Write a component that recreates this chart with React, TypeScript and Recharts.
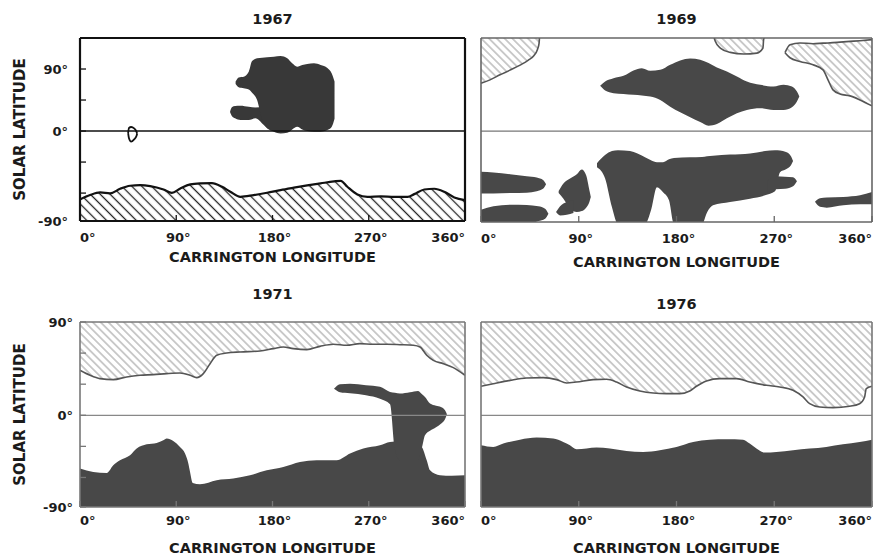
import React from 'react';
import { ComposedChart, Area, XAxis, YAxis, ReferenceLine, Label } from 'recharts';

const FONT = '"DejaVu Sans", "Liberation Sans", sans-serif';
const TEXT = '#1b1b1b';

// ---------- axis / text content ----------
const X_TICKS = [0, 90, 180, 270, 360];
const X_TOP_TICKS = [90, 180, 270];
const X_TITLE = 'CARRINGTON LONGITUDE';
const Y_TITLE = 'SOLAR LATITUDE';
const YEARS = ['1967', '1969', '1971', '1976'];

// y tick positions (deg) and the labels printed next to them
const Y_TICKS_1967 = [-87, -60, -30, 0, 30, 60];
const Y_LABELS_1967: [number, string][] = [[60, '90°'], [0, '0°'], [-87, '-90°']];
const Y_TICKS_1969 = [-60, -30, 0, 30, 60];
const Y_TICKS_1971 = [-88.5, -60, -30, 0, 30, 60, 90];
const Y_LABELS_1971: [number, string][] = [[90, '90°'], [0, '0°'], [-88.5, '-90°']];
const Y_TICKS_1976 = [-60, -30, 0, 30, 60];

// ---------- 1967 ----------
const south1967: [number, number][] = [
  [0, -66.1], [9.4, -61.9], [18.8, -59.4], [28.1, -60.3], [37.5, -55.8], [46.9, -52.9], [56.3, -52.3],
  [65.6, -53.2], [78.1, -56.5], [85.9, -59.7], [93.8, -55.5], [103.1, -51.6], [112.5, -50.6], [123.4, -50.3],
  [132.8, -53.9], [140.6, -58.7], [150, -63.6], [162.5, -61.9], [175, -59.7], [187.5, -57.1], [200, -54.8],
  [212.5, -52.6], [225, -50.6], [237.5, -48.7], [243.8, -48.1], [250, -53.9], [259.4, -61.3], [268.8, -63.6],
  [281.3, -63.2], [293.8, -63.6], [306.3, -63.6], [312.5, -61], [321.9, -56.5], [331.3, -55.8], [340.6, -58.7],
  [350, -64.2], [360, -66.8],
];
const blob1967: [number, number, number][] = [
  [145.5, 45.5, 48], [148.4, 42.3, 51.9], [153.1, 41.3, 52.6], [157.8, 40.3, 57.4], [160.9, 37.1, 67.7],
  [165.6, 30, 70.3], [170.3, 10.6, 71], [175, 2.6, 71.3], [181.3, -0.6, 71.9], [187.5, -2.3, 72.6],
  [193.8, -1.6, 70.3], [198.4, 1.6, 65.5], [203.1, 4.2, 62.3], [207.8, 1.6, 63.9], [212.5, 0, 64.8],
  [218.8, -0.6, 65.5], [225, -0.6, 63.9], [231.3, 1, 61], [235.3, 4, 56], [238, 12, 48],
];
const lobe1967: [number, number, number][] = [
  [140.3, 18.5, 18.5], [142, 14.5, 23], [145, 12.3, 24.2], [150, 10.6, 24.5], [157.8, 10.6, 23.5],
  [164, 12.3, 22.9], [171.9, 5.8, 23.5], [176, 2, 30],
];
const ring1967: [number, number, number][] = [
  [45, -2, -2], [45.8, -7, 3], [47.8, -10.3, 3.9], [50.6, -8.1, 2.6], [52.8, -4.8, -0.6], [53.4, -2.6, -2.6],
];

// ---------- 1969 ----------
const hatchNW1969: [number, number][] = [
  [0, 46.3], [8.3, 49.5], [17.5, 54.4], [26.7, 58.9], [36, 63.8], [43.6, 68.6], [48.8, 73.1], [51.9, 78.7],
  [53.5, 85.1], [53.8, 90],
];
const hatchN1969: [number, number][] = [
  [214.7, 90], [215.7, 86.8], [220.3, 80.3], [229.5, 76.1], [241.8, 74.5], [254, 75.4], [259.6, 80.3],
  [260.2, 88.4], [260.8, 90],
];
const hatchNE1969: [number, number, number][] = [
  [279.9, 75.8, 75.8], [284.5, 70.9, 83.5], [293.7, 67.3, 85.2], [305.7, 64.1, 84.5], [314.9, 59.2, 85],
  [319.5, 49.5, 85.2], [324.1, 39.8, 85.5], [330.5, 35.9, 86], [339.7, 34, 86.7], [348.9, 30.1, 87.4],
  [360, 24.3, 88.4],
];
const north1969: [number, number, number][] = [
  [109.7, 43.7, 43.7], [114.3, 39.2, 47.9], [122, 36.6, 51.1], [131.2, 35.9, 53.4], [140.4, 35, 58.6],
  [148.1, 34.3, 60.8], [155.8, 33.3, 58.3], [165, 30.1, 59.2], [174.2, 23.6, 64.1], [183.4, 18.1, 68.3],
  [192.6, 13.3, 70.2], [201.8, 8.7, 68.9], [209.5, 5.2, 65.7], [217.2, 6.8, 61.5], [226.4, 12.3, 57.6],
  [235.6, 17.2, 52.8], [244.8, 20.4, 47.9], [257.1, 22, 44.7], [269.4, 20.4, 43.1], [278.6, 20.4, 44.7],
  [286.3, 23, 43.1], [290.9, 28.5, 38.2], [293.1, 33.3, 33.3],
];
const barUpper1969: [number, number, number][] = [
  [0, -60.5, -39.5], [11.4, -60.5, -40.1], [26.7, -59.9, -41.8], [42.1, -59.6, -43.7], [51.3, -58.3, -45],
  [57.4, -55.7, -47.6], [59.9, -51.5, -51.5],
];
const barLower1969: [number, number, number][] = [
  [0, -90, -76.1], [11.4, -90, -72.8], [26.7, -90, -71.2], [42.1, -90, -71.5], [52.8, -87.1, -72.8],
  [59, -84.8, -75.1], [62.1, -80, -80],
];
const spot1969: [number, number, number][] = [
  [71.5, -60, -58], [75.9, -65.4, -50.8], [82, -75.1, -46], [88.2, -78.3, -41.8], [92.8, -77.4, -37.2],
  [96.8, -74.1, -42.7], [99.8, -68.6, -57.3], [101.1, -63.8, -63.8],
];
const spotLobe1969: [number, number, number][] = [
  [69.1, -78.3, -78.3], [72.8, -81.6, -72.8], [79, -80.9, -68.6], [85.1, -79.3, -67],
];
const south1969: [number, number, number][] = [
  [106.8, -35, -31.1], [114.2, -45.6, -23.3], [120.6, -73.8, -19.4], [126.1, -90, -18.5], [137.2, -90, -19.4],
  [151, -90, -25.3], [156.5, -76.7, -28.2], [162, -54.4, -30.1], [167.6, -59.2, -30.1], [173.1, -67, -27.2],
  [177.7, -90, -26.2], [192.4, -90, -25.3], [203.5, -90, -25], [208.1, -78.7, -24.3], [213.6, -71.9, -23.8],
  [229.3, -68.7, -22.8], [247.7, -65.4, -21.7], [261.5, -62.2, -19.4], [270.7, -58.3, -18.5],
  [275.3, -39.8, -18.9], [280.8, -36.9, -20.4], [285.4, -33, -24.3], [287.3, -29.1, -29.1],
];
const southLobe1969: [number, number, number][] = [
  [264.2, -61.2, -47.6], [271.6, -56.3, -43.7], [279.9, -55.8, -44.2], [287.3, -53.4, -44.7], [290.9, -48.6, -48.6],
];
const barEast1969: [number, number, number][] = [
  [307.5, -68.5, -68.5], [312.1, -73.3, -65.1], [318.3, -74.1, -64.4], [333.6, -71.9, -63.8],
  [349, -70.9, -62.2], [360, -70.9, -59],
];

// ---------- 1971 ----------
const north1971: [number, number][] = [
  [0, 43.4], [9.4, 38.6], [18.7, 35.4], [31.2, 34.4], [43.6, 37], [56.1, 38.6], [68.6, 39.2], [81, 40.2],
  [93.5, 40.8], [102.9, 38.6], [109.1, 36.3], [115.3, 40.2], [121.6, 49.8], [127.8, 57.9], [137.1, 60.1],
  [149.6, 61.1], [168.3, 62], [180.8, 64.3], [190.1, 65.9], [199.5, 64.3], [212, 63.3], [224.4, 66.5],
  [236.9, 68.5], [249.4, 67.5], [261.8, 69.1], [274.3, 68.5], [286.8, 68.5], [299.2, 68.1], [311.7, 67.5],
  [317.9, 65.9], [324.2, 57.9], [330.4, 53], [339.8, 49.8], [349.1, 46], [360, 38.6],
];
const south1971: [number, number][] = [
  [0, -51.4], [12.4, -54.7], [25, -55.7], [31.1, -48.2], [37.4, -43.4], [46.8, -38.6], [53, -32.1],
  [62.4, -28], [71.7, -26.7], [77.9, -24.1], [81.1, -22.5], [87.2, -24.8], [93.5, -30.6], [98.2, -36.9],
  [101.3, -46.6], [102.9, -54.7], [105.4, -65.3], [112.2, -66.6], [127.8, -62.7], [143.3, -61.1],
  [159, -57.9], [174.6, -53.1], [190.1, -49.9], [205.7, -45], [221.3, -43.4], [240, -43.4], [252.5, -36.9],
  [264.9, -32.1], [280.5, -28.9], [289.9, -25.8], [299.2, -25.1], [310.4, -26], [319.5, -30.6],
  [324.2, -43.4], [327.3, -53.1], [336.6, -57.9], [347.8, -58.4], [360, -57.9],
];
const hook1971: [number, number, number][] = [
  [237.5, 25.5, 25.5], [243.1, 22.2, 29.9], [252.5, 21.2, 30.4], [267.4, 19.3, 28.9], [280.5, 15.9, 27.5],
  [289.9, 10.6, 22.5], [294.5, -33.8, 21.7], [299.2, -43.4, 20.9], [308.6, -43.4, 22.2], [316, -43.4, 23.4],
  [319.8, -30.9, 20.3], [322.6, -19.3, 17.7], [327.3, -15, 11.3], [332.9, -11.6, 9.2], [337.5, -8.2, 8],
  [341.3, -3.9, 4.8], [343.1, 1, 1],
];

// ---------- 1976 ----------
const north1976: [number, number][] = [
  [0, 28], [11.3, 30.5], [26.7, 33.7], [42, 36], [57.3, 36.3], [69.6, 34.4], [78.8, 31.2], [88, 32.1],
  [103.3, 34.4], [115.6, 34.7], [124.8, 32.1], [134, 27.3], [146.2, 23.5], [158.5, 21.5], [170.8, 20.9],
  [183, 20.9], [192.2, 23.5], [198.4, 28], [207.6, 33.1], [219.8, 35.4], [235.2, 35.4], [247.4, 32.1],
  [262.8, 28.9], [275, 27.3], [287.3, 24.1], [296.5, 17.7], [302.6, 11.2], [311.8, 8], [324.1, 7.4],
  [339.4, 8.7], [348.6, 11.2], [353.2, 17.7], [354.7, 25.7], [360, 28],
];
const south1976: [number, number][] = [
  [0, -28.9], [11.3, -30.5], [20.5, -27.3], [35.9, -23.5], [51.2, -21.5], [66.5, -22.5], [75.7, -25.7],
  [81.9, -28.9], [88, -32.8], [97.2, -32.1], [106.4, -31.2], [118.7, -32.1], [134, -34.4], [149.3, -35.4],
  [164.6, -33.7], [180, -30.5], [195.3, -25.7], [210.6, -23.5], [226, -23.1], [241.3, -23.5], [247.4, -27.3],
  [253.6, -32.1], [261.2, -36], [272, -35.4], [287.3, -33.7], [302.6, -32.1], [317.9, -30.5], [333.3, -28],
  [348.6, -25.7], [360, -23.5],
];

// ---------- helpers ----------
const toBand = (pts: [number, number][]) => pts.map(([lon, lat]) => ({ lon, lat }));
const toRange = (pts: [number, number, number][]) => pts.map(([lon, lo, hi]) => ({ lon, r: [lo, hi] }));

const common = {
  xAxisId: 'b',
  yAxisId: 'l',
  type: 'monotone' as const,
  isAnimationActive: false,
  dot: false,
  activeDot: false,
  fillOpacity: 1,
};

function bandArea(key: string, pts: [number, number][], base: 'dataMin' | 'dataMax', fill: string, stroke: string, sw: number) {
  return (
    <Area key={key} {...common} data={toBand(pts)} dataKey="lat" baseValue={base} fill={fill} stroke={stroke} strokeWidth={sw} />
  );
}
function rangeArea(key: string, pts: [number, number, number][], fill: string, stroke: string, sw: number) {
  return <Area key={key} {...common} data={toRange(pts)} dataKey="r" fill={fill} stroke={stroke} strokeWidth={sw} />;
}

const xTick = (props: any) => {
  const { x, y, payload } = props;
  const v = payload.value as number;
  const anchor = v === X_TICKS[0] ? 'start' : v === X_TICKS[X_TICKS.length - 1] ? 'end' : 'middle';
  return (
    <text x={x + (anchor === 'middle' ? 2 : 0)} y={y} dy="0.71em" textAnchor={anchor} fill={TEXT}
      fontFamily={FONT} fontWeight="bold" fontSize={13}>
      {`${v}°`}
    </text>
  );
};

type PanelSpec = {
  title: string;
  width: number;
  height: number;
  margin: { top: number; right: number; bottom: number; left: number };
  yAxisWidth: number;
  xAxisHeight: number;
  yDomain: [number, number];
  yTicks: number[];
  yLabels: [number, string][] | null;
  titleOffset: number;
  xTitleOffset: number;
  xTickMargin: number;
  yTickMargin: number;
  frame: string;
  frameWidth: number;
  zero: string;
  zeroWidth: number;
  series: React.ReactNode[];
};

const labelStyle = { fontFamily: FONT, fontWeight: 700, fontSize: 14.5, fill: TEXT };

function Panel(p: PanelSpec) {
  const map = new Map(p.yLabels ?? []);
  const axisLine = { stroke: p.frame, strokeWidth: p.frameWidth };
  const tickLine = { stroke: p.frame, strokeWidth: 1.3 };
  return (
    <ComposedChart width={p.width} height={p.height} margin={p.margin}>
      <ReferenceLine xAxisId="b" yAxisId="l" y={0} stroke={p.zero} strokeWidth={p.zeroWidth} />
      {p.series}
      <XAxis xAxisId="b" type="number" dataKey="lon" domain={[0, 360]} ticks={X_TICKS} interval={0}
        allowDataOverflow height={p.xAxisHeight} tickSize={-6} tickMargin={p.xTickMargin} tick={xTick}
        axisLine={axisLine} tickLine={tickLine}>
        <Label value={X_TITLE} position="insideBottom" offset={p.xTitleOffset} style={labelStyle} />
      </XAxis>
      <XAxis xAxisId="t" orientation="top" type="number" dataKey="lon" domain={[0, 360]} ticks={X_TOP_TICKS}
        interval={0} allowDataOverflow height={1} tickSize={-6} tick={false} axisLine={axisLine} tickLine={tickLine}>
        <Label value={p.title} position="top" offset={p.titleOffset} style={labelStyle} />
      </XAxis>
      <YAxis yAxisId="l" type="number" domain={p.yDomain} allowDataOverflow ticks={p.yTicks} interval={0}
        width={p.yAxisWidth} tickSize={-6} tickMargin={p.yTickMargin}
        tick={p.yLabels ? { fill: TEXT, fontSize: 13, fontWeight: 'bold', fontFamily: FONT } : false}
        tickFormatter={(v: number) => map.get(v) ?? ''} axisLine={axisLine} tickLine={tickLine}>
        {p.yLabels ? (
          <Label value={Y_TITLE} angle={-90} position="insideLeft" offset={20}
            style={{ ...labelStyle, fontSize: 15, textAnchor: 'middle' }} />
        ) : null}
      </YAxis>
      <YAxis yAxisId="r" orientation="right" type="number" domain={p.yDomain} allowDataOverflow ticks={p.yTicks}
        interval={0} width={1} tickSize={-6} tick={false} axisLine={axisLine} tickLine={tickLine} />
    </ComposedChart>
  );
}

const DARK67 = '#383838';
const DARK = '#484848';
const H67 = 'url(#hatchDark)';
const HL = 'url(#hatchLight)';

export default function App() {
  const s1967 = [
    bandArea('s', south1967, 'dataMin', H67, '#111', 2.2),
    rangeArea('lobe', lobe1967, DARK67, 'none', 0),
    rangeArea('blob', blob1967, DARK67, 'none', 0),
    rangeArea('ring', ring1967, 'none', '#111', 1.8),
  ];
  const s1969 = [
    bandArea('nw', hatchNW1969, 'dataMax', HL, '#555', 1.6),
    bandArea('n', hatchN1969, 'dataMax', HL, '#555', 1.6),
    rangeArea('ne', hatchNE1969, HL, '#555', 1.6),
    rangeArea('north', north1969, DARK, 'none', 0),
    rangeArea('bu', barUpper1969, DARK, 'none', 0),
    rangeArea('bl', barLower1969, DARK, 'none', 0),
    rangeArea('sp', spot1969, DARK, 'none', 0),
    rangeArea('spl', spotLobe1969, DARK, 'none', 0),
    rangeArea('south', south1969, DARK, 'none', 0),
    rangeArea('southl', southLobe1969, DARK, 'none', 0),
    rangeArea('be', barEast1969, DARK, 'none', 0),
  ];
  const s1971 = [
    bandArea('n', north1971, 'dataMax', HL, '#555', 1.6),
    bandArea('s', south1971, 'dataMin', DARK, 'none', 0),
    rangeArea('hook', hook1971, DARK, 'none', 0),
  ];
  const s1976 = [
    bandArea('n', north1976, 'dataMax', HL, '#555', 1.6),
    bandArea('s', south1976, 'dataMin', DARK, 'none', 0),
  ];

  return (
    <div style={{ position: 'absolute', left: 0, top: 0, width: 885, height: 557, background: '#fff', overflow: 'hidden' }}>
      <svg width={0} height={0} style={{ position: 'absolute' }}>
        <defs>
          <pattern id="hatchDark" patternUnits="userSpaceOnUse" width={7} height={7} patternTransform="rotate(45)">
            <line x1={0} y1={3.5} x2={7} y2={3.5} stroke="#222" strokeWidth={1.3} />
          </pattern>
          <pattern id="hatchLight" patternUnits="userSpaceOnUse" width={5.5} height={5.5} patternTransform="rotate(45)">
            <line x1={0} y1={2.75} x2={5.5} y2={2.75} stroke="#9a9a9a" strokeWidth={1} />
          </pattern>
        </defs>
      </svg>
      <div style={{ position: 'absolute', left: 0, top: 0 }}>
        <Panel title={YEARS[0]} width={470} height={280} margin={{ top: 37, right: 4, bottom: 0, left: 0 }}
          yAxisWidth={80} xAxisHeight={59} yDomain={[-87, 90]} yTicks={Y_TICKS_1967} yLabels={Y_LABELS_1967}
          titleOffset={13} xTitleOffset={18} xTickMargin={18} yTickMargin={18}
          frame="#111" frameWidth={2.2} zero="#111" zeroWidth={1.6} series={s1967} />
      </div>
      <div style={{ position: 'absolute', left: 470, top: 0 }}>
        <Panel title={YEARS[1]} width={415} height={280} margin={{ top: 37, right: 12, bottom: 0, left: 10 }}
          yAxisWidth={1} xAxisHeight={58} yDomain={[-88, 90]} yTicks={Y_TICKS_1969} yLabels={null}
          titleOffset={13} xTitleOffset={13} xTickMargin={18} yTickMargin={10}
          frame="#666" frameWidth={1.6} zero="#777" zeroWidth={1.3} series={s1969} />
      </div>
      <div style={{ position: 'absolute', left: 0, top: 280 }}>
        <Panel title={YEARS[2]} width={470} height={277} margin={{ top: 41, right: 4, bottom: 0, left: 0 }}
          yAxisWidth={80} xAxisHeight={50} yDomain={[-88.5, 90]} yTicks={Y_TICKS_1971} yLabels={Y_LABELS_1971}
          titleOffset={22} xTitleOffset={4} xTickMargin={14.5} yTickMargin={13}
          frame="#777" frameWidth={1.6} zero="#888" zeroWidth={1.3} series={s1971} />
      </div>
      <div style={{ position: 'absolute', left: 470, top: 280 }}>
        <Panel title={YEARS[3]} width={415} height={277} margin={{ top: 41, right: 12, bottom: 0, left: 10 }}
          yAxisWidth={1} xAxisHeight={50} yDomain={[-88.5, 90]} yTicks={Y_TICKS_1976} yLabels={null}
          titleOffset={12} xTitleOffset={4} xTickMargin={14.5} yTickMargin={10}
          frame="#777" frameWidth={1.6} zero="#888" zeroWidth={1.3} series={s1976} />
      </div>
    </div>
  );
}
